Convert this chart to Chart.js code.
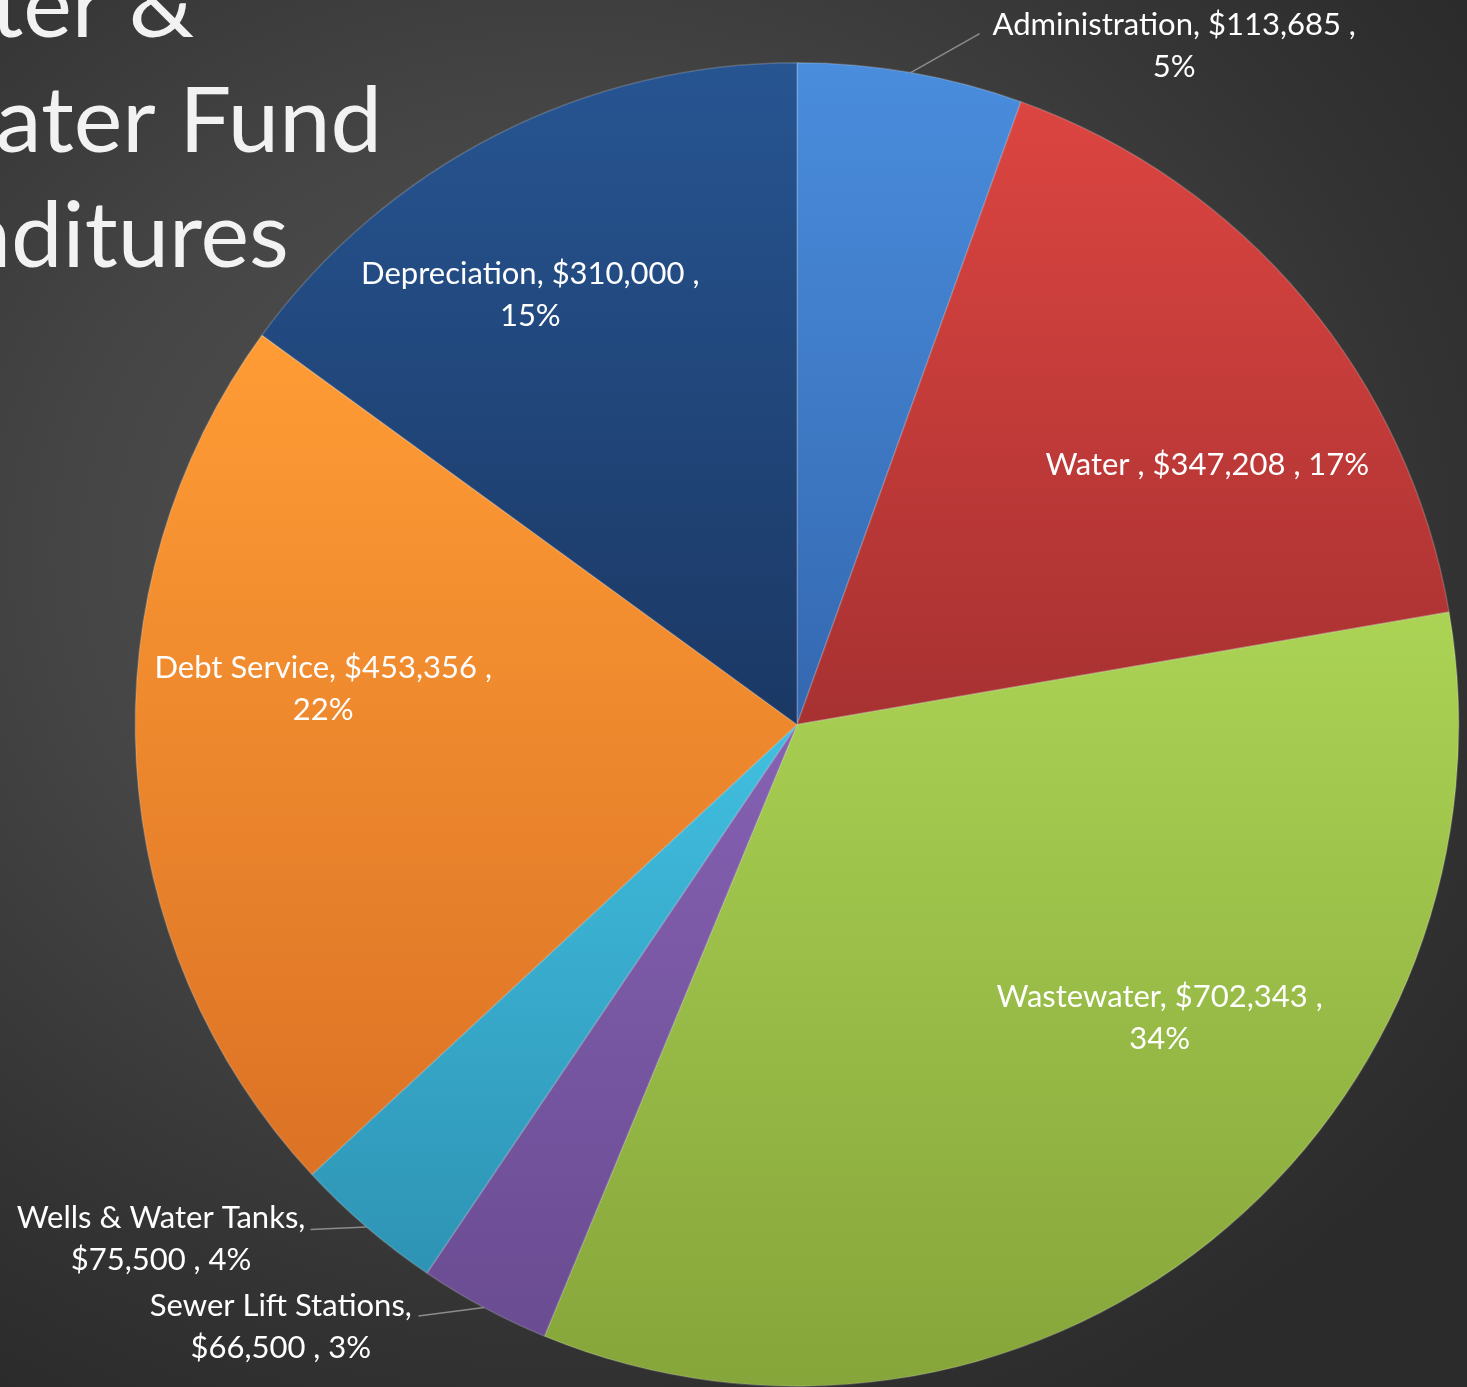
<!DOCTYPE html>
<html>
<head>
<meta charset="utf-8">
<title>Water &amp; Wastewater Fund Expenditures</title>
<script src="https://cdn.jsdelivr.net/npm/chart.js@4.4.1/dist/chart.umd.min.js"></script>
<style>
    html, body {
        margin: 0;
        padding: 0;
        overflow: hidden;
    }
    body {
        width: 1467px;
        height: 1387px;
        background: radial-gradient(ellipse 75% 70% at 38% 40%, #545454 0%, #454545 45%, #333333 80%, #2b2b2b 100%);
    }
    canvas { display: block; }
</style>
</head>
<body>
<canvas id="fundChart" width="1467" height="1387"></canvas>
<script>
// Expenditure data
const CATEGORIES = ['Administration', 'Water ', 'Wastewater', 'Sewer Lift Stations', 'Wells & Water Tanks', 'Debt Service', 'Depreciation'];
const AMOUNTS = [113685, 347208, 702343, 66500, 75500, 453356, 310000];
const TITLE_LINES = ['Water &', 'Wastewater Fund', 'Expenditures'];

// Slice colours, light at the top of each slice and darker at the bottom
const FILL_TOP = ['#4a8ddd', '#dc4541', '#abd354', '#8561b2', '#41bfe0', '#ff9c35', '#275592'];
const FILL_BOTTOM = ['#3468b0', '#a73131', '#86a53a', '#6a4c92', '#2e93b4', '#db7225', '#1b3864'];

// Where each label wraps: after the value, after the category, or not at all
const LABEL_BREAK = ['value', 'none', 'value', 'category', 'category', 'value', 'value'];
// Label centre, in pie radii from the pie centre
const LABEL_POS = [[0.570, -1.026], [0.620, -0.392], [0.548, 0.443], [-0.780, 0.911], [-0.961, 0.778], [-0.716, -0.054], [-0.403, -0.649]];
// Leader line end for labels sitting outside the pie
const LEADER_END = [[0.276, -1.044], null, null, [-0.572, 0.894], [-0.735, 0.763], null, null];

const FONT = 'Lato, "Open Sans", sans-serif';
const total = AMOUNTS.reduce((a, b) => a + b, 0);

function labelLines(i) {
    const cat = CATEGORIES[i];
    const val = '$' + AMOUNTS[i].toLocaleString('en-US');
    const pct = Math.round(AMOUNTS[i] / total * 100) + '%';
    if (LABEL_BREAK[i] === 'value') return [`${cat}, ${val} ,`, pct];
    if (LABEL_BREAK[i] === 'category') return [`${cat},`, `${val} , ${pct}`];
    return [`${cat}, ${val} , ${pct}`];
}

// Vertical gradient spanning the slice's own height
function sliceFill(context) {
    const i = context.dataIndex;
    const chart = context.chart;
    const area = chart.chartArea;
    if (!area) return FILL_TOP[i];
    const cx = (area.left + area.right) / 2;
    const cy = (area.top + area.bottom) / 2;
    const r = Math.min(area.right - area.left, area.bottom - area.top) / 2;
    let before = 0;
    for (let k = 0; k < i; k++) before += AMOUNTS[k];
    const a0 = -Math.PI / 2 + before / total * Math.PI * 2;
    const a1 = a0 + AMOUNTS[i] / total * Math.PI * 2;
    const ys = [cy, cy + r * Math.sin(a0), cy + r * Math.sin(a1)];
    if (a0 <= Math.PI / 2 && a1 >= Math.PI / 2) ys.push(cy + r);
    if (a1 >= Math.PI * 1.5 - 1e-6 || a0 <= -Math.PI / 2 + 1e-6) ys.push(cy - r);
    const g = chart.ctx.createLinearGradient(0, Math.min(...ys), 0, Math.max(...ys));
    g.addColorStop(0, FILL_TOP[i]);
    g.addColorStop(1, FILL_BOTTOM[i]);
    return g;
}

const titlePlugin = {
    id: 'slideTitle',
    beforeDatasetsDraw(chart) {
        const ctx = chart.ctx;
        ctx.save();
        ctx.font = `400 92px ${FONT}`;
        ctx.fillStyle = '#f2f2f2';
        ctx.textAlign = 'center';
        ctx.textBaseline = 'alphabetic';
        // lines are centred; the widest one ends just right of the title area
        const cx = 382 - ctx.measureText(TITLE_LINES[1]).width / 2;
        TITLE_LINES.forEach((line, k) => ctx.fillText(line, cx, 37 + k * 115));
        ctx.restore();
    }
};

const labelPlugin = {
    id: 'sliceLabels',
    afterDatasetsDraw(chart) {
        const ctx = chart.ctx;
        const arcs = chart.getDatasetMeta(0).data;
        ctx.save();
        ctx.font = `400 31px ${FONT}`;
        ctx.fillStyle = '#ffffff';
        ctx.textAlign = 'center';
        ctx.textBaseline = 'middle';
        arcs.forEach((arc, i) => {
            const { x, y, startAngle, endAngle, outerRadius } = arc.getProps(['x', 'y', 'startAngle', 'endAngle', 'outerRadius'], true);
            if (LEADER_END[i]) {
                const mid = (startAngle + endAngle) / 2;
                ctx.strokeStyle = '#8c8c8c';
                ctx.lineWidth = 1.5;
                ctx.beginPath();
                ctx.moveTo(x + Math.cos(mid) * outerRadius, y + Math.sin(mid) * outerRadius);
                ctx.lineTo(x + LEADER_END[i][0] * outerRadius, y + LEADER_END[i][1] * outerRadius);
                ctx.stroke();
            }
            const lines = labelLines(i);
            const lx = x + LABEL_POS[i][0] * outerRadius;
            const ly = y + LABEL_POS[i][1] * outerRadius;
            const lh = 42;
            lines.forEach((line, k) => {
                ctx.fillText(line, lx, ly + (k - (lines.length - 1) / 2) * lh);
            });
        });
        ctx.restore();
    }
};

new Chart(document.getElementById('fundChart'), {
    type: 'pie',
    data: {
        labels: CATEGORIES,
        datasets: [{
            data: AMOUNTS,
            backgroundColor: sliceFill,
            borderColor: 'rgba(255, 255, 255, 0.18)',
            borderWidth: 1.5
        }]
    },
    options: {
        responsive: false,
        animation: false,
        layout: { padding: { left: 134, right: 7, top: 62, bottom: 0 } },
        plugins: {
            legend: { display: false },
            tooltip: { enabled: false }
        }
    },
    plugins: [titlePlugin, labelPlugin]
});
</script>
</body>
</html>
